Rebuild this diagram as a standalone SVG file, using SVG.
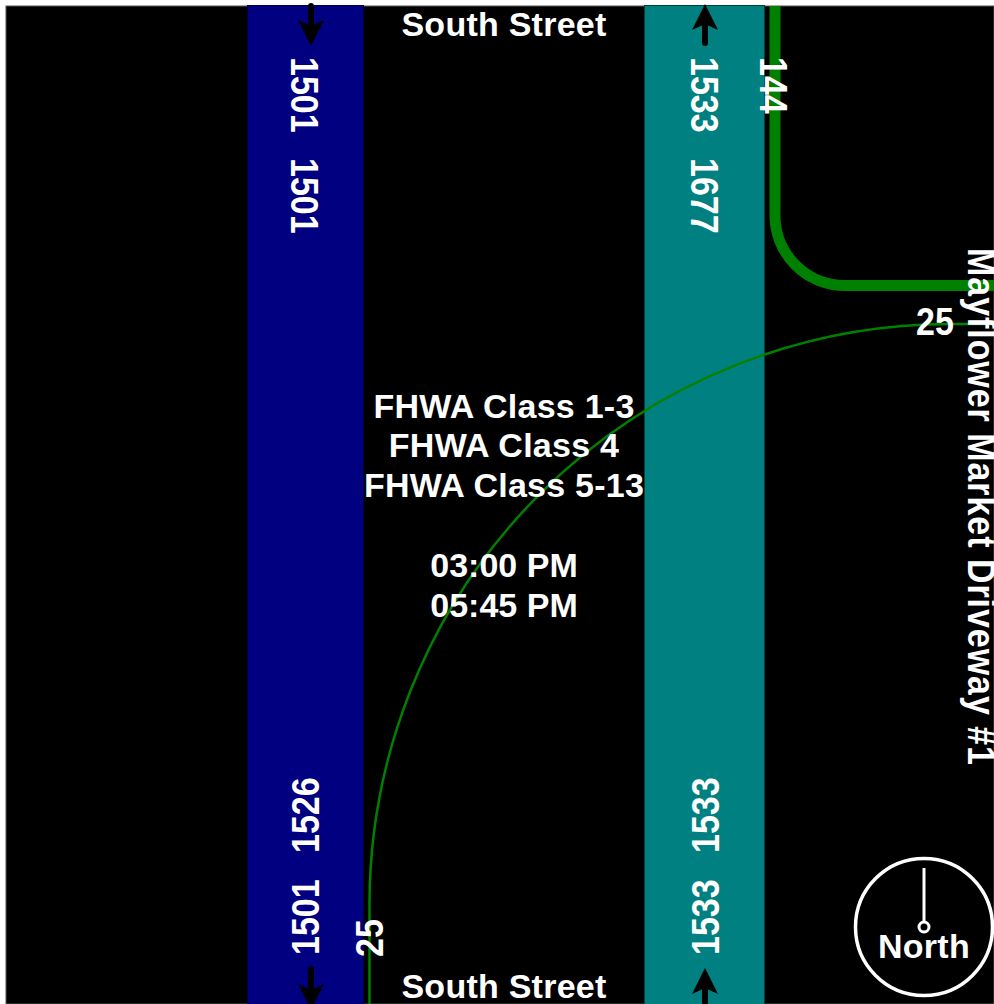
<svg xmlns="http://www.w3.org/2000/svg" width="994" height="1004" viewBox="0 0 994 1004">
<defs>
<style>
text{font-family:"Liberation Sans",Arial,sans-serif;font-size:34px;font-weight:bold;fill:#fff}
.m{text-anchor:middle;letter-spacing:.25px}
.t{letter-spacing:0}
.arr{fill:#000;stroke:none}
.shaft{stroke:#000;stroke-width:6;stroke-linecap:round;fill:none}
.conn{fill:none;stroke:#008000}
</style>
</defs>
<rect x="0" y="0" width="994" height="1004" fill="#fff"/>
<rect x="6" y="6" width="988" height="998" fill="#000" stroke="#555" stroke-width="1"/>
<g id="road-south-left">
<rect x="247.500" y="5.500" width="116" height="999" fill="#000080" stroke="#000040"/>
<path class="shaft" d="M311 6V26"/><path class="arr" d="M298 20L311 26L324 20L311 46Z"/>
<path class="shaft" d="M311 969V992"/><path class="arr" d="M298 984L311 990L324 984L311 1010Z"/>
<text transform="translate(290.500 57) rotate(90) scale(1 1.12)">1501</text>
<text transform="translate(290.500 158) rotate(90) scale(1 1.12)">1501</text>
<text transform="translate(319 853) rotate(-90) scale(1 1.12)">1526</text>
<text transform="translate(319 955) rotate(-90) scale(1 1.12)">1501</text>
</g>
<g id="road-south-right">
<rect x="644.500" y="5.500" width="120" height="999" fill="#008080" stroke="#004040"/>
<path class="shaft" d="M705 20V43"/><path class="arr" d="M692 30L705 24L718 30L705 4Z"/>
<path class="shaft" d="M705 985V1006"/><path class="arr" d="M692 994L705 988L718 994L705 968Z"/>
<text transform="translate(690.500 57) rotate(90) scale(1 1.12)">1533</text>
<text transform="translate(690.500 158) rotate(90) scale(1 1.12)">1677</text>
<text transform="translate(719 853) rotate(-90) scale(1 1.12)">1533</text>
<text transform="translate(719 955) rotate(-90) scale(1 1.12)">1533</text>
</g>
<g id="connectors">
<path class="conn" stroke-width="11" d="M775 6V215A70 70 0 0 0 845 285.500H994"/>
<path class="conn" stroke-width="2.500" d="M369.500 1004V905A581 581 0 0 1 950 324H994"/>
</g>
<g id="labels">
<text class="m" x="504" y="36">South Street</text>
<text class="m" x="504" y="998">South Street</text>
<text class="m" x="504" y="418">FHWA Class 1-3</text>
<text class="m" x="504" y="457">FHWA Class 4</text>
<text class="m" x="504" y="497">FHWA Class 5-13</text>
<text class="m t" x="504" y="577">03:00 PM</text>
<text class="m t" x="504" y="617">05:45 PM</text>
<text transform="translate(760 57) rotate(90) scale(1 1.12)">144</text>
<text transform="translate(916 334.500) scale(1 1.12)">25</text>
<text transform="translate(383 957) rotate(-90) scale(1 1.12)">25</text>
<text transform="translate(968 248) rotate(90) scale(1 1.12)" textLength="517">Mayflower Market Driveway #1</text>
</g>
<g id="north">
<circle cx="924" cy="927" r="68.500" fill="none" stroke="#fff" stroke-width="3.500"/>
<path d="M924 868V922" stroke="#fff" stroke-width="3" fill="none"/>
<circle cx="924" cy="927" r="5" fill="none" stroke="#fff" stroke-width="3"/>
<text class="m" x="924" y="958">North</text>
</g>
</svg>
